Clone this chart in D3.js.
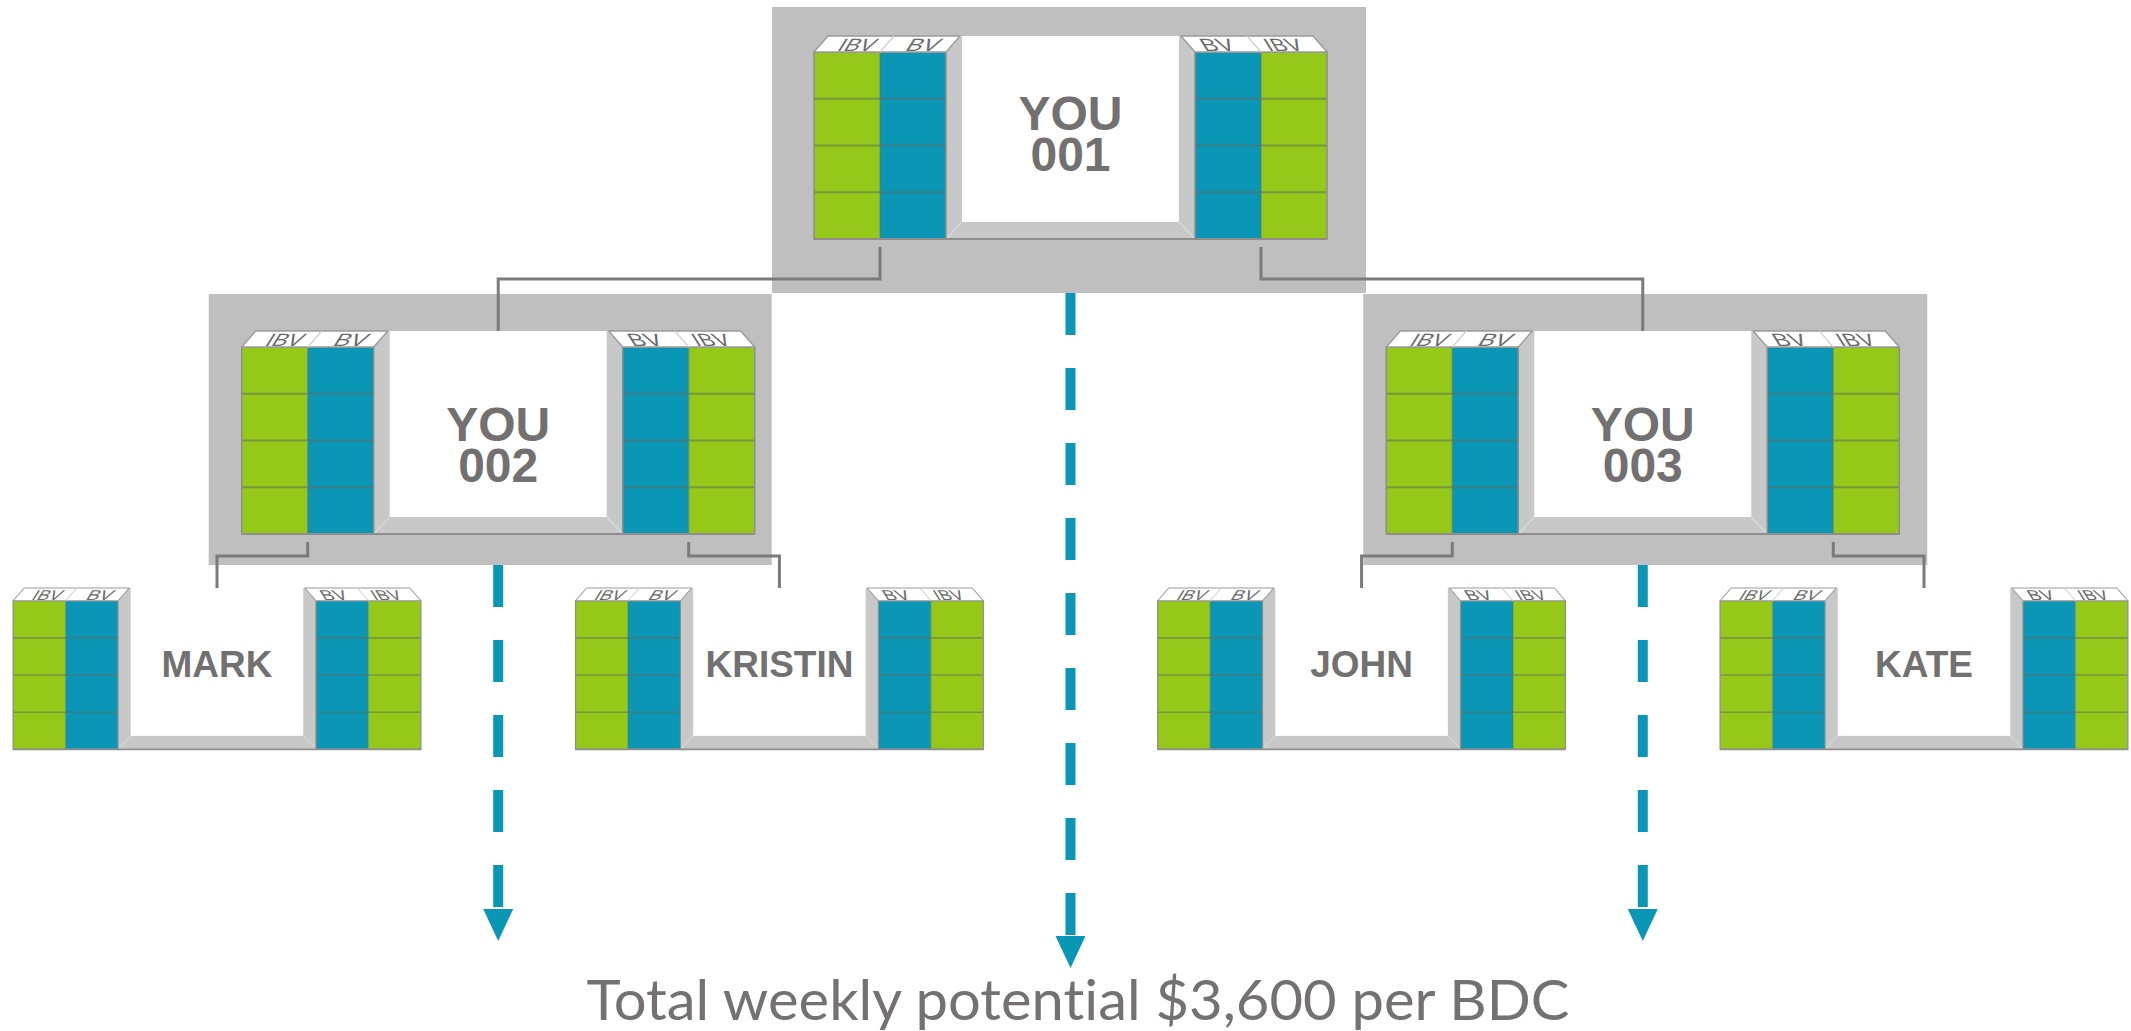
<!DOCTYPE html>
<html><head><meta charset="utf-8">
<script src="https://cdn.jsdelivr.net/npm/d3@7"></script>
<style>html,body{margin:0;padding:0;background:#fff;overflow:hidden}</style>
</head><body>
<svg id="chart" width="2131" height="1031"></svg>
<script>
// ---------------- data ----------------
const nodeIds     = ["you001", "you002", "you003", "mark", "kristin", "john", "kate"];
const nodeLabels  = [["YOU", "001"], ["YOU", "002"], ["YOU", "003"], ["MARK"], ["KRISTIN"], ["JOHN"], ["KATE"]];
const nodeParents = [null, "you001", "you001", "you002", "you002", "you003", "you003"];
const leftColumnLabels  = ["IBV", "BV"];
const rightColumnLabels = ["BV", "IBV"];
const leftColumnKinds   = ["ibv", "bv"];
const rightColumnKinds  = ["bv", "ibv"];
const rowsPerColumn = 4;
const footerText = "Total weekly potential $3,600 per BDC";

// ---------------- layout / style ----------------
const colors = { ibv: "#95c818", bv: "#0a96b4", bg: "#bfbfbf", frame: "#c8c8c8",
                 line: "#7b7b7b", text: "#727070", label: "#6c6c6c", arrow: "#0a97b5", footer: "#767171" };
const depthTop   = [36, 331, 588];
const depthScale = [1, 1, 0.795];
const depthFont  = [48, 48, 46.5];
const depthBase  = [94, 110, 112];
const lineGap    = 41;
const connectorY = [279, 556];
const arrowTip   = [968, 941];
const G = { w: 513, h: 203, hd: 16, col: 66, stripL: 132, whiteX: 148, whiteW: 217, whiteH: 186, slant: 14 };
const bgPad = { you001: [42, 39, 29, 54], you002: [33, 17, 37, 31], you003: [23, 28, 37, 31] };

const svg = d3.select("#chart");

// tree layout
const table = nodeIds.map((id, i) => ({ id, parent: nodeParents[i], label: nodeLabels[i] }));
const root = d3.stratify().id(d => d.id).parentId(d => d.parent)(table);
d3.tree().nodeSize([1, 1]).separation((a, b) => a.parent === b.parent ? 1 : 1.035)(root);
const leaves = root.leaves();
const xScale = d3.scaleLinear().domain(d3.extent(leaves, d => d.x)).range([217, 1924]);
const nodes = root.descendants();
nodes.forEach(n => {
  n.s = depthScale[n.depth];
  n.cx = xScale(n.x);
  n.left = n.cx - G.w * n.s / 2;
  n.top = depthTop[n.depth];
  n.bottom = n.top + G.h * n.s;
});

// backgrounds
const bgLayer = svg.append("g");
nodes.filter(n => bgPad[n.id]).forEach(n => {
  const p = bgPad[n.id];
  n.bgBottom = n.bottom + p[3];
  bgLayer.append("rect")
    .attr("x", n.left - p[0]).attr("y", n.top - p[2])
    .attr("width", G.w * n.s + p[0] + p[1]).attr("height", G.h * n.s + p[2] + p[3])
    .attr("fill", colors.bg);
});

// connectors
const conLayer = svg.append("g");
nodes.filter(n => n.parent).forEach(n => {
  const p = n.parent;
  const side = p.children.indexOf(n);
  const px = p.left + (side === 0 ? G.col : G.w - G.col) * p.s;
  const y1 = p.bottom + 8;
  conLayer.append("path")
    .attr("d", `M${px},${y1}V${connectorY[p.depth]}H${n.cx}V${n.top}`)
    .attr("fill", "none").attr("stroke", colors.line).attr("stroke-width", 3);
});

// nodes
function drawNode(n) {
  const g = svg.append("g").attr("transform", `translate(${n.left},${n.top}) scale(${n.s})`);
  g.append("rect").attr("x", G.stripL).attr("y", 0).attr("width", G.w - 2 * G.stripL).attr("height", G.h)
    .attr("fill", colors.frame);
  const wx0 = G.whiteX, wx1 = G.whiteX + G.whiteW;
  [[wx0, G.whiteH, G.stripL, G.h], [wx1, G.whiteH, G.w - G.stripL, G.h]].forEach(c =>
    g.append("line").attr("x1", c[0]).attr("y1", c[1]).attr("x2", c[2]).attr("y2", c[3])
      .attr("stroke", "#dadada").attr("stroke-width", 1.2));
  g.append("rect").attr("x", wx0).attr("y", 0).attr("width", G.whiteW).attr("height", G.whiteH).attr("fill", "#fff");

  const bodyH = G.h - G.hd;
  const rowH = bodyH / rowsPerColumn;
  const sides = [
    { xs: [0, G.col], kinds: leftColumnKinds, labels: leftColumnLabels, dir: 1 },
    { xs: [G.w - 2 * G.col, G.w - G.col], kinds: rightColumnKinds, labels: rightColumnLabels, dir: -1 }
  ];
  sides.forEach(sd => {
    sd.xs.forEach((x, i) => {
      g.append("rect").attr("x", x).attr("y", G.hd).attr("width", G.col).attr("height", bodyH)
        .attr("fill", colors[sd.kinds[i]]);
      d3.range(1, rowsPerColumn).forEach(r =>
        g.append("line").attr("x1", x).attr("x2", x + G.col).attr("y1", G.hd + r * rowH).attr("y2", G.hd + r * rowH)
          .attr("stroke", "#5f6f5f").attr("stroke-opacity", 0.55).attr("stroke-width", 2));
    });
    const x0 = sd.xs[0], x1 = sd.xs[1] + G.col;
    g.append("line").attr("x1", sd.xs[1]).attr("x2", sd.xs[1]).attr("y1", G.hd).attr("y2", G.h)
      .attr("stroke", "#5f6f6f").attr("stroke-opacity", 0.45).attr("stroke-width", 1.5);
    g.append("rect").attr("x", x0).attr("y", G.hd).attr("width", x1 - x0).attr("height", bodyH)
      .attr("fill", "none").attr("stroke", "#8e8e8e").attr("stroke-width", 1.5);
    const sl = G.slant * sd.dir;
    const hx0 = sd.dir === 1 ? x0 : x1, hx1 = sd.dir === 1 ? x1 : x0;
    g.append("path")
      .attr("d", `M${hx0},${G.hd}L${hx0 + sl},0L${hx1 + sl},0L${hx1},${G.hd}Z`)
      .attr("fill", "#fff").attr("stroke", "#9a9a9a").attr("stroke-width", 1.3).attr("stroke-linejoin", "round");
    // header divider (slants with the face)
    g.append("line").attr("x1", sd.xs[1]).attr("y1", G.hd).attr("x2", sd.xs[1] + sl).attr("y2", 0)
      .attr("stroke", "#d0d0d0").attr("stroke-width", 1.3);
    sd.xs.forEach((x, i) => {
      const lbl = sd.labels[i];
      g.append("text")
        .attr("transform", `translate(${x + G.col / 2 + sl / 2},${G.hd - 1.5}) skewX(${-32 * sd.dir})`)
        .attr("text-anchor", "middle")
        .attr("font-family", "Liberation Sans, Arial, sans-serif")
        .attr("font-size", 18)
        .attr("fill", colors.label)
        .attr("textLength", lbl.length === 3 ? 36 : 32)
        .attr("lengthAdjust", "spacingAndGlyphs")
        .text(lbl);
    });
  });
  g.append("line").attr("x1", 0).attr("x2", G.w).attr("y1", G.h).attr("y2", G.h)
    .attr("stroke", "#8e8e8e").attr("stroke-width", 2);

  // name label (one text element, lines as tspans)
  const t = g.append("text")
    .attr("text-anchor", "middle")
    .attr("font-family", "Liberation Sans, Arial, sans-serif")
    .attr("font-weight", "bold")
    .attr("font-size", depthFont[n.depth])
    .attr("fill", colors.text);
  n.data.label.forEach((s, i) => {
    t.append("tspan").attr("x", G.w / 2).attr("y", depthBase[n.depth] + i * lineGap).text(s);
  });
}
nodes.forEach(drawNode);

// dashed arrows
const arrowLayer = svg.append("g");
nodes.filter(n => n.depth < 2).forEach(n => {
  const tip = arrowTip[n.depth];
  const headH = 32, headW = 30;
  arrowLayer.append("line")
    .attr("x1", n.cx).attr("x2", n.cx).attr("y1", n.bgBottom).attr("y2", tip - headH)
    .attr("stroke", colors.arrow).attr("stroke-width", 10).attr("stroke-dasharray", "42 33");
  arrowLayer.append("path")
    .attr("d", `M${n.cx - headW / 2},${tip - headH}L${n.cx + headW / 2},${tip - headH}L${n.cx},${tip}Z`)
    .attr("fill", colors.arrow);
});

// footer
svg.append("text")
  .attr("x", 1078).attr("y", 1020)
  .attr("text-anchor", "middle")
  .attr("font-family", "Lato, 'Open Sans', sans-serif")
  .attr("font-size", 56)
  .style("font-variant-ligatures", "none")
  .attr("fill", colors.footer)
  .attr("textLength", 983)
  .attr("lengthAdjust", "spacingAndGlyphs")
  .text(footerText);
</script>
</body></html>
